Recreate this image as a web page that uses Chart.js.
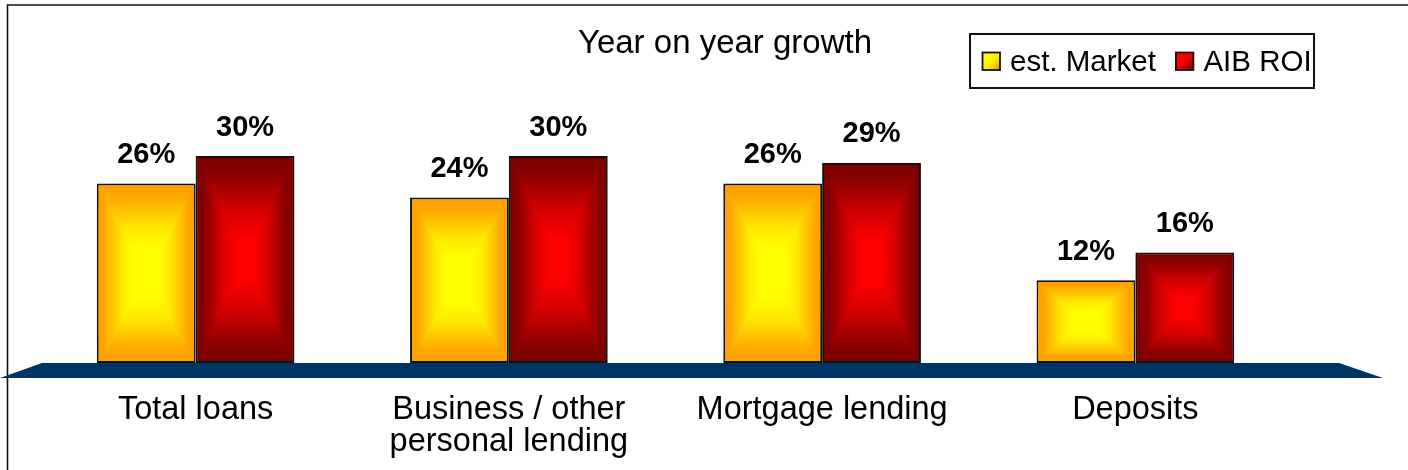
<!DOCTYPE html>
<html>
<head>
<meta charset="utf-8">
<script src="https://cdn.jsdelivr.net/npm/chart.js@4"></script>
<style>
  html, body { margin: 0; padding: 0; background: #fff; }
  #wrap { width: 1408px; height: 470px; position: relative; }
</style>
</head>
<body>
<div id="wrap"><canvas id="c"></canvas></div>
<script>
// Growth figures, in percent
const categories = [['Total loans'], ['Business / other', 'personal lending'], ['Mortgage lending'], ['Deposits']];
const marketGrowth = [26, 24, 26, 12];
const aibGrowth = [30, 30, 29, 16];
const seriesNames = ['est. Market', 'AIB ROI'];
const chartTitle = 'Year on year growth';

const FONT = '"Liberation Sans", Arial, Helvetica, sans-serif';

// Colour ramps for the "from centre" box fill: stop 0 = edge, 1 = centre
const ramps = [
  [[0, '#FFA000'], [0.12, '#FFA600'], [0.5, '#FFEA00'], [0.74, '#FFFF00'], [1, '#FFFF00']],
  [[0, '#7A0000'], [0.14, '#880000'], [0.5, '#D20000'], [0.8, '#FF0000'], [1, '#FF0000']]
];
// Diagonal fills for the small legend keys
const keyRamps = [
  [[0, '#FFFF00'], [0.55, '#FFF000'], [0.8, '#FFB400'], [1, '#FFA000']],
  [[0, '#FF0000'], [0.55, '#F00000'], [0.8, '#A00000'], [1, '#800000']]
];

function addMirrored(g, ramp) {
  ramp.forEach(([s, c]) => g.addColorStop(s * 0.5, c));
  ramp.slice().reverse().forEach(([s, c]) => g.addColorStop(1 - s * 0.5, c));
}

// Rectangular gradient that brightens towards the middle of the box
function fillBox(ctx, l, t, r, b, ramp) {
  if (r <= l || b <= t) return;
  const cx = (l + r) / 2, cy = (t + b) / 2;
  let g = ctx.createLinearGradient(0, t, 0, b);
  addMirrored(g, ramp);
  ctx.fillStyle = g;
  ctx.fillRect(l, t, r - l, b - t);
  g = ctx.createLinearGradient(l, 0, r, 0);
  addMirrored(g, ramp);
  ctx.beginPath();
  ctx.moveTo(l, t); ctx.lineTo(cx, cy); ctx.lineTo(l, b); ctx.closePath();
  ctx.moveTo(r, t); ctx.lineTo(cx, cy); ctx.lineTo(r, b); ctx.closePath();
  ctx.fillStyle = g;
  ctx.fill();
}

const BAR_BORDER = 2;

// Frame lines along the top and left
const framePlugin = {
  id: 'frame',
  beforeDraw(chart) {
    const ctx = chart.ctx;
    ctx.save();
    ctx.fillStyle = '#fff';
    ctx.fillRect(0, 0, chart.width, chart.height);
    ctx.strokeStyle = '#111';
    ctx.lineWidth = 1.6;
    ctx.beginPath();
    ctx.moveTo(7.5, chart.height);
    ctx.lineTo(7.5, 5);
    ctx.lineTo(chart.width, 5);
    ctx.stroke();
    ctx.restore();
  }
};

// Navy floor slab under the bars
const floorPlugin = {
  id: 'floor',
  beforeDatasetsDraw(chart) {
    const { ctx, chartArea: a } = chart;
    const depth = 15;
    ctx.save();
    ctx.fillStyle = '#003366';
    ctx.beginPath();
    ctx.moveTo(a.left + 3, a.bottom);
    ctx.lineTo(a.right + 47, a.bottom);
    ctx.lineTo(a.right + 91, a.bottom + depth);
    ctx.lineTo(a.left - 39, a.bottom + depth);
    ctx.closePath();
    ctx.fill();
    ctx.restore();
  }
};

// Box gradient inside each bar, then the value label above it
const barDecorPlugin = {
  id: 'barDecor',
  afterDatasetsDraw(chart) {
    const ctx = chart.ctx;
    ctx.save();
    chart.data.datasets.forEach((ds, di) => {
      const meta = chart.getDatasetMeta(di);
      meta.data.forEach((el, i) => {
        const p = el.getProps(['x', 'y', 'base', 'width'], true);
        const l = p.x - p.width / 2 + BAR_BORDER;
        const r = p.x + p.width / 2 - BAR_BORDER;
        const t = Math.min(p.y, p.base) + BAR_BORDER;
        const b = Math.max(p.y, p.base) - BAR_BORDER;
        fillBox(ctx, l, t, r, b, ramps[di]);
        ctx.fillStyle = '#000';
        ctx.font = 'bold 29px ' + FONT;
        ctx.textAlign = 'center';
        ctx.textBaseline = 'alphabetic';
        ctx.fillText(ds.data[i] + '%', p.x, Math.min(p.y, p.base) - 20.5);
      });
    });
    ctx.restore();
  }
};

// Title and boxed legend in the top band
const headerPlugin = {
  id: 'header',
  afterDraw(chart) {
    const ctx = chart.ctx;
    ctx.save();
    ctx.fillStyle = '#000';
    ctx.font = '33px ' + FONT;
    ctx.textAlign = 'center';
    ctx.textBaseline = 'alphabetic';
    ctx.fillText(chartTitle, 725, 53);

    const box = { x: 970, y: 34, w: 344, h: 54 };
    ctx.fillStyle = '#fff';
    ctx.fillRect(box.x, box.y, box.w, box.h);

    ctx.font = '29.5px ' + FONT;
    ctx.textAlign = 'left';
    let x = box.x + 12.5;
    chart.data.datasets.forEach((ds, di) => {
      const sw = 17.5;
      const sy = 52.5;
      const g = ctx.createLinearGradient(x, sy, x + sw, sy + sw);
      keyRamps[di].forEach(([s, c]) => g.addColorStop(s, c));
      ctx.fillStyle = g;
      ctx.fillRect(x, sy, sw, sw);
      ctx.strokeStyle = '#111';
      ctx.lineWidth = 1.8;
      ctx.strokeRect(x, sy, sw, sw);
      ctx.fillStyle = '#000';
      ctx.fillText(ds.label, x + sw + 10, 70.5);
      x += sw + 10 + ctx.measureText(ds.label).width + 20;
    });

    ctx.strokeStyle = '#111';
    ctx.lineWidth = 2;
    ctx.strokeRect(box.x, box.y, box.w, box.h);
    ctx.restore();
  }
};

new Chart(document.getElementById('c'), {
  type: 'bar',
  data: {
    labels: categories,
    datasets: [
      {
        label: seriesNames[0],
        data: marketGrowth,
        backgroundColor: '#FFA000',
        borderColor: '#111',
        borderWidth: BAR_BORDER,
        borderSkipped: false
      },
      {
        label: seriesNames[1],
        data: aibGrowth,
        backgroundColor: '#7A0000',
        borderColor: '#111',
        borderWidth: BAR_BORDER,
        borderSkipped: false
      }
    ]
  },
  options: {
    responsive: true,
    maintainAspectRatio: false,
    animation: false,
    layout: { padding: { top: 87, left: 39, right: 116, bottom: 0 } },
    datasets: { bar: { barPercentage: 1, categoryPercentage: 0.631 } },
    plugins: {
      legend: { display: false },
      title: { display: false },
      tooltip: { enabled: false }
    },
    scales: {
      x: {
        grid: { display: false, drawTicks: false },
        border: { display: false },
        ticks: {
          color: '#000',
          font: { family: FONT, size: 32.5, lineHeight: 1.0 },
          padding: 30.5,
          maxRotation: 0,
          autoSkip: false
        },
        afterFit(scale) { scale.height = 107; }
      },
      y: {
        display: false,
        min: 0,
        max: 40
      }
    }
  },
  plugins: [framePlugin, floorPlugin, barDecorPlugin, headerPlugin]
});
</script>
</body>
</html>
